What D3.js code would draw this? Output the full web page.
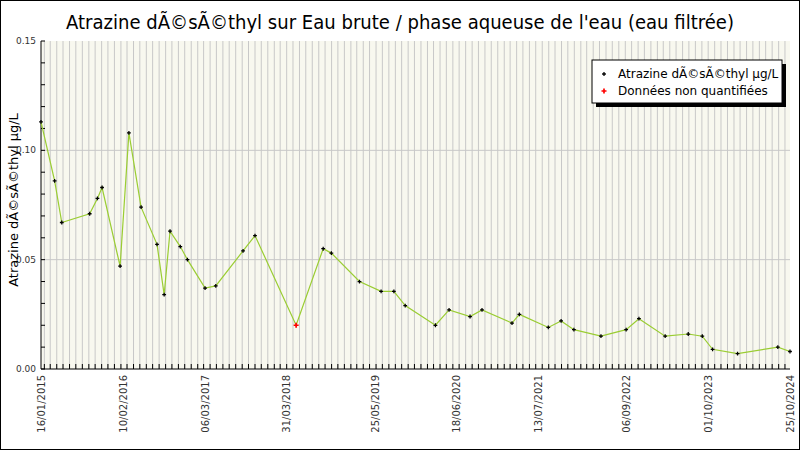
<!DOCTYPE html>
<html><head><meta charset="utf-8">
<script src="https://cdn.jsdelivr.net/npm/d3@7"></script>
<style>body{margin:0;background:#fff}svg{display:block;font-family:"DejaVu Sans",sans-serif}</style>
</head><body>
<svg id="chart" width="800" height="450"></svg>
<script>
const dates = ["2015-01-16","2015-03-22","2015-04-25","2015-09-05","2015-10-12","2015-11-03","2016-01-28","2016-03-10","2016-05-07","2016-07-22","2016-08-25","2016-09-22","2016-11-10","2016-12-14","2017-03-08","2017-04-28","2017-09-05","2017-11-01","2018-05-16","2018-09-22","2018-10-31","2019-03-14","2019-06-25","2019-08-25","2019-10-18","2020-03-10","2020-05-14","2020-08-22","2020-10-18","2021-03-10","2021-04-14","2021-08-30","2021-10-30","2021-12-30","2022-05-08","2022-09-05","2022-11-05","2023-03-10","2023-06-28","2023-09-03","2023-10-22","2024-02-18","2024-08-28","2024-10-25"];
const values = [0.113,0.086,0.067,0.071,0.078,0.083,0.047,0.108,0.074,0.057,0.034,0.063,0.056,0.050,0.037,0.038,0.054,0.061,0.020,0.055,0.053,0.040,0.0355,0.0355,0.029,0.020,0.027,0.024,0.027,0.021,0.025,0.019,0.022,0.018,0.015,0.018,0.023,0.015,0.016,0.015,0.009,0.007,0.010,0.008];
const nonQuant = ["2018-05-16"];
const tickLabels = ["16/01/2015","10/02/2016","06/03/2017","31/03/2018","25/05/2019","18/06/2020","13/07/2021","06/09/2022","01/10/2023","25/10/2024"];
const yTicks = [0, 0.05, 0.10, 0.15];

const svg = d3.select("#chart");
const parse = d3.timeParse("%Y-%m-%d"), parseFr = d3.timeParse("%d/%m/%Y");
const data = dates.map((d, i) => ({date: parse(d), v: values[i], nq: nonQuant.includes(d)}));
const L = 41, R = 790, T = 41, B = 369;
const x = d3.scaleTime().domain([parseFr(tickLabels[0]), parseFr(tickLabels[tickLabels.length-1])]).range([L, R]);
const y = d3.scaleLinear().domain([0, 0.15]).range([B, T]);

svg.append("rect").attr("x",0.5).attr("y",0.5).attr("width",799).attr("height",449).attr("fill","#fff").attr("stroke","#000");
svg.append("rect").attr("x",L).attr("y",T).attr("width",R-L).attr("height",B-T).attr("fill","#f8f8ef");

const months = d3.timeMonth.range(x.domain()[0], x.domain()[1]);
svg.append("g").selectAll("line").data(months).join("line")
  .attr("x1", d => x(d)).attr("x2", d => x(d)).attr("y1", T).attr("y2", B)
  .attr("stroke", "#c8c8c8").attr("stroke-width", 1);
svg.append("g").selectAll("line").data([0.05,0.10]).join("line")
  .attr("x1", L).attr("x2", R).attr("y1", d => y(d)).attr("y2", d => y(d))
  .attr("stroke", "#c8c8c8");

// axes
const ga = svg.append("g");
ga.append("line").attr("x1",L).attr("x2",L).attr("y1",T).attr("y2",B).attr("stroke","#000");
ga.append("line").attr("x1",L).attr("x2",R).attr("y1",B).attr("y2",B).attr("stroke","#000");
ga.selectAll(".mt").data(months).join("line").attr("x1", d => x(d)).attr("x2", d => x(d)).attr("y1", B-5).attr("y2", B).attr("stroke","#000");
ga.selectAll(".yt").data(d3.range(0, 0.1501, 0.01)).join("line").attr("x1",L).attr("x2",L+4).attr("y1",d=>y(d)).attr("y2",d=>y(d)).attr("stroke","#000");
ga.selectAll(".yl").data(yTicks).join("text").attr("x",L-5).attr("y",d=>y(d)+3).attr("text-anchor","end")
  .attr("font-size",9).attr("fill","#333").text(d => d3.format(".2f")(d));
ga.selectAll(".xl").data(tickLabels).join("text")
  .attr("transform", d => `translate(${x(parseFr(d))+4},375) rotate(-90)`)
  .attr("text-anchor","end").attr("font-size",10).attr("fill","#333").text(d => d);

svg.append("text").attr("transform","translate(18,200) rotate(-90)").attr("text-anchor","middle")
  .attr("font-size",13).text("Atrazine dÃ©sÃ©thyl µg/L");
svg.append("text").attr("x",400).attr("y",29).attr("text-anchor","middle").attr("font-size",19)
  .attr("textLength",668).attr("lengthAdjust","spacingAndGlyphs")
  .text("Atrazine dÃ©sÃ©thyl sur Eau brute / phase aqueuse de l'eau (eau filtrée)");

svg.append("path").datum(data).attr("fill","none").attr("stroke","#9acd32").attr("stroke-width",1.2)
  .attr("d", d3.line().x(d => x(d.date)).y(d => y(d.v)));
const cross = d3.symbol().type(d3.symbolCross);
svg.append("g").selectAll("path").data(data).join("path")
  .attr("transform", d => `translate(${x(d.date)},${y(d.v)})`)
  .attr("d", d => cross.size(d.nq ? 14 : 8)())
  .attr("fill", d => d.nq ? "#f00" : "#000");

// legend
const lg = svg.append("g").attr("transform","translate(592,60)");
lg.append("rect").attr("x",4).attr("y",4).attr("width",190).attr("height",43).attr("fill","#000");
lg.append("rect").attr("width",190).attr("height",43).attr("fill","#fff").attr("stroke","#000");
[["Atrazine dÃ©sÃ©thyl µg/L","#000"],["Données non quantifiées","#f00"]].forEach(([t,c],i) => {
  lg.append("path").attr("transform",`translate(12,${14+i*17})`).attr("d", cross.size(i ? 14 : 8)()).attr("fill", c);
  lg.append("text").attr("x",26).attr("y",18+i*17).attr("font-size",12).text(t);
});
</script>
</body></html>
